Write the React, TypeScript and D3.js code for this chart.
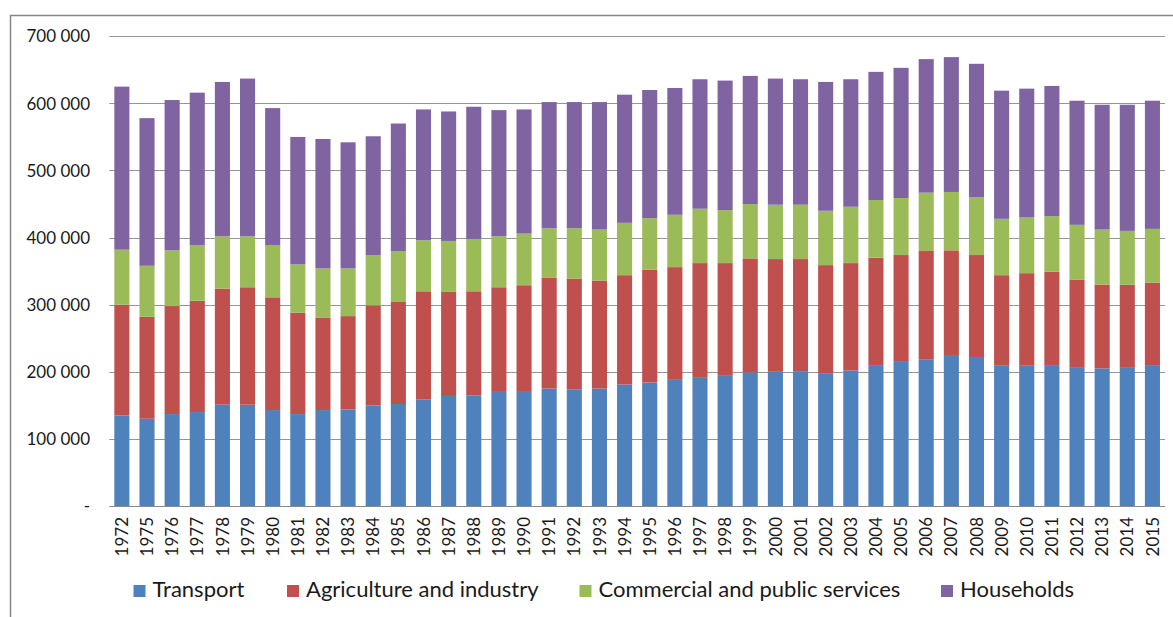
import React from "react";
import * as d3 from "d3";

const years = ["1972","1975","1976","1977","1978","1979","1980","1981","1982","1983","1984","1985","1986","1987","1988","1989","1990","1991","1992","1993","1994","1995","1996","1997","1998","1999","2000","2001","2002","2003","2004","2005","2006","2007","2008","2009","2010","2011","2012","2013","2014","2015"];

const transport = [135,130,137,140,151,151,143,137,143,144,150,152,159,164,165,170,170,175,174,175,181,184,188,191,194,199,201,201,198,202,210,216,218,225,222,209,209,210,207,205,207,210];
const agriculture = [165,152,161,166,173,175,168,151,138,139,149,152,161,155,155,156,159,165,165,161,163,168,168,171,168,170,167,167,161,160,160,158,162,156,152,135,138,139,130,125,123,123];
const commercial = [82,76,83,83,78,76,78,72,73,71,75,76,76,76,78,76,77,74,75,76,78,77,78,81,79,81,81,81,81,84,86,85,87,87,86,84,83,83,82,82,80,80];
const households = [243,220,224,227,230,235,204,190,193,188,177,190,195,193,197,188,185,188,188,190,191,191,189,193,193,191,188,187,192,190,191,194,199,201,199,191,192,194,185,186,188,191];

const seriesNames = ["Transport", "Agriculture and industry", "Commercial and public services", "Households"];
const seriesColors = ["#4F81BD", "#C0504D", "#9BBB59", "#8064A2"];
const yTicks = [0, 100000, 200000, 300000, 400000, 500000, 600000, 700000];

const FONT = "Lato, 'Open Sans', sans-serif";

export default function App() {
  const W = 1173, H = 617;
  const left = 109.3, right = 1165, y0 = 506, yTop = 36.3;
  const x = d3.scaleBand<string>().domain(years).range([left, right]).paddingInner(0.4).paddingOuter(0.2);
  const y = d3.scaleLinear().domain([0, 700000]).range([y0, yTop]);

  const rows = years.map((yr, i) => ({
    year: yr,
    s0: transport[i] * 1000,
    s1: agriculture[i] * 1000,
    s2: commercial[i] * 1000,
    s3: households[i] * 1000,
  }));
  const stack = d3.stack<any>().keys(["s0", "s1", "s2", "s3"]);
  const layers = stack(rows);

  const fmt = (v: number) => (v === 0 ? "-" : d3.format(",")(v).replace(/,/g, " "));

  const legendX = [133.5, 287, 579.5, 941];

  return (
    <svg width={W} height={H} style={{ position: "absolute", left: 0, top: 0, display: "block", background: "#fff" }}>
      <rect x={0} y={0} width={W} height={H} fill="#fff" />
      {/* frame */}
      <rect x={10.5} y={15.5} width={W + 20} height={H + 20} fill="none" stroke="#868686" strokeWidth={1.5} />
      {/* gridlines */}
      {yTicks.map((t) => (
        <line key={t} x1={left} x2={right} y1={Math.round(y(t)) + 0.5} y2={Math.round(y(t)) + 0.5} stroke={t === 0 ? "#8a8a8a" : "#959595"} strokeWidth={1.2} />
      ))}
      {/* y labels */}
      {yTicks.map((t) => (
        <text key={"l" + t} x={90} y={y(t)} dy="0.36em" textAnchor="end" fontFamily={FONT} fontSize={17} fill="#1a1a1a">
          {fmt(t)}
        </text>
      ))}
      {/* bars */}
      {layers.map((layer, li) => (
        <g key={li} fill={seriesColors[li]}>
          {layer.map((d: any, i: number) => (
            <rect key={i} x={x(years[i])} width={x.bandwidth()} y={y(d[1])} height={y(d[0]) - y(d[1])} />
          ))}
        </g>
      ))}
      {/* x labels */}
      {years.map((yr) => {
        const cx = (x(yr) as number) + x.bandwidth() / 2;
        return (
          <text key={"x" + yr} transform={`translate(${cx},517) rotate(-90)`} textAnchor="end" dy="0.36em" fontFamily={FONT} fontSize={17} fill="#1a1a1a">
            {yr}
          </text>
        );
      })}
      {/* legend */}
      {seriesNames.map((n, i) => (
        <g key={n}>
          <rect x={legendX[i]} y={585} width={12} height={12} fill={seriesColors[i]} />
          <text x={legendX[i] + 19} y={597} fontFamily={FONT} fontSize={22} fill="#1a1a1a">
            {n}
          </text>
        </g>
      ))}
    </svg>
  );
}
